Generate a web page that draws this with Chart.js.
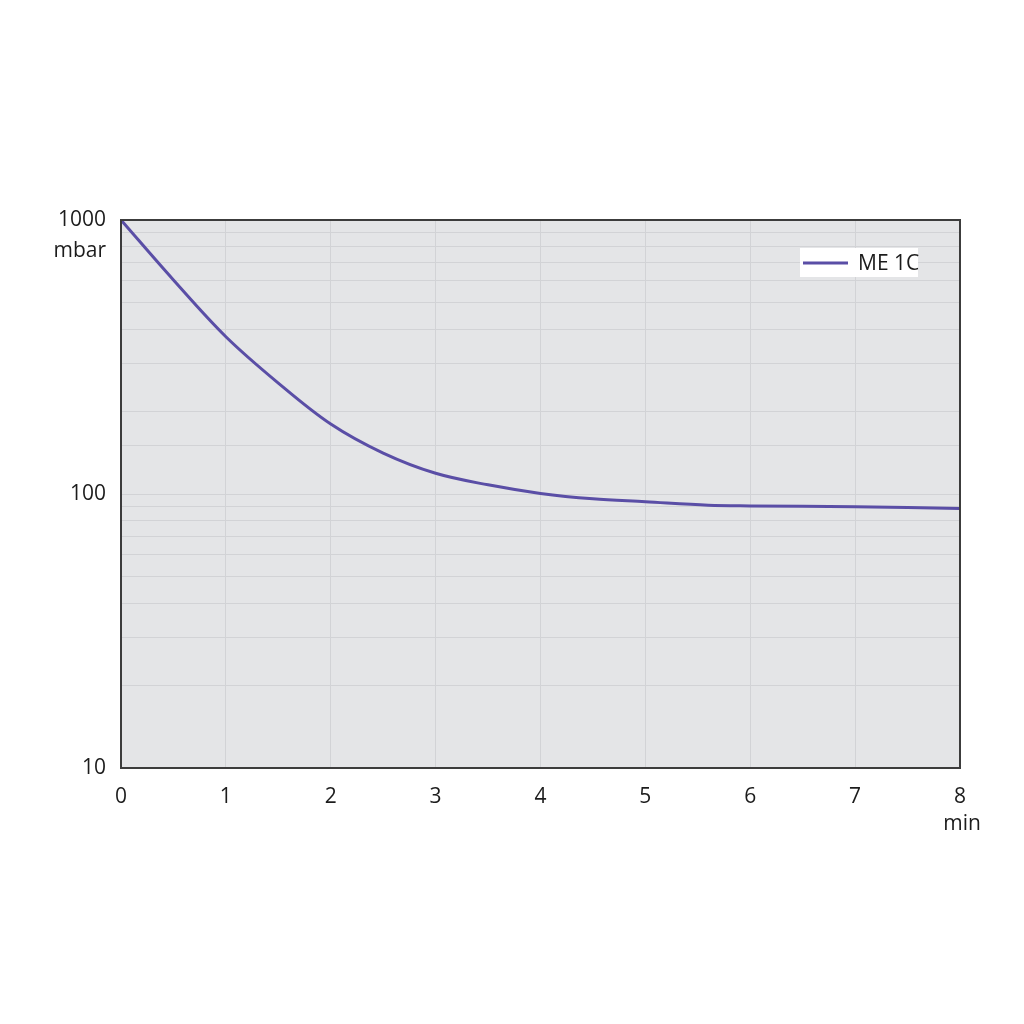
<!DOCTYPE html>
<html>
<head>
<meta charset="utf-8">
<script src="https://cdn.jsdelivr.net/npm/chart.js@4"></script>
<style>
    html, body { margin: 0; padding: 0; background: #ffffff; }
    #wrap { width: 1024px; height: 1024px; }
</style>
</head>
<body>
<div id="wrap"><canvas id="pumpDownChart" width="1024" height="1024"></canvas></div>
<script>
const seriesLabel = 'ME 1C';
const timeMinutes = [0, 0.5, 1, 1.5, 2, 2.5, 3, 3.5, 4, 4.5, 5, 5.6, 6, 7, 8];
const pressureMbar = [1000, 604, 375, 254, 180, 141, 119, 108, 100.5, 96, 93.7, 91, 90.5, 89.9, 88.5];
const xTicks = [0, 1, 2, 3, 4, 5, 6, 7, 8];
const yLabelTicks = [10, 100, 1000];
const yUnit = 'mbar';
const xUnit = 'min';

const FONT = '"Open Sans", "DejaVu Sans", sans-serif';

// grey plot background + dark frame round the chart area
const plotFrame = {
    id: 'plotFrame',
    beforeDraw(chart) {
        const { ctx, chartArea: a } = chart;
        ctx.save();
        ctx.fillStyle = '#e4e5e7';
        ctx.fillRect(a.left, a.top, a.right - a.left, a.bottom - a.top);
        ctx.restore();
    },
    afterDatasetsDraw(chart) {
        const { ctx, chartArea: a, scales } = chart;
        ctx.save();
        ctx.strokeStyle = '#3c3c3c';
        ctx.lineWidth = 2;
        ctx.strokeRect(a.left, a.top, a.right - a.left, a.bottom - a.top);

        // unit labels under the last ticks
        ctx.fillStyle = '#1c1c1c';
        ctx.font = '21px ' + FONT;
        ctx.textBaseline = 'middle';
        ctx.textAlign = 'right';
        ctx.fillText(yUnit, a.left - 15, scales.y.getPixelForValue(1000) + 31);
        ctx.textAlign = 'center';
        ctx.fillText(xUnit, scales.x.getPixelForValue(8) + 2, a.bottom + 56);

        // legend box inside the plot
        const ds = chart.data.datasets[0];
        const bx = a.right - 160, by = a.top + 28;
        ctx.fillStyle = '#ffffff';
        ctx.fillRect(bx, by, 118, 29);
        ctx.strokeStyle = ds.borderColor;
        ctx.lineWidth = 3;
        ctx.beginPath();
        ctx.moveTo(bx + 3, by + 15);
        ctx.lineTo(bx + 48, by + 15);
        ctx.stroke();
        ctx.fillStyle = '#1c1c1c';
        ctx.textAlign = 'left';
        ctx.fillText(ds.label, bx + 58, by + 16);
        ctx.restore();
    }
};

new Chart(document.getElementById('pumpDownChart'), {
    type: 'line',
    data: {
        datasets: [{
            label: seriesLabel,
            data: timeMinutes.map((t, i) => ({ x: t, y: pressureMbar[i] })),
            borderColor: '#5a4ea6',
            borderWidth: 3,
            pointRadius: 0,
            tension: 0.35,
            fill: false,
        }],
    },
    options: {
        responsive: false,
        animation: false,
        layout: { padding: { top: 220, right: 64, bottom: 0, left: 0 } },
        plugins: {
            legend: { display: false },
            tooltip: { enabled: false },
        },
        scales: {
            x: {
                type: 'linear',
                min: 0,
                max: 8,
                afterBuildTicks(scale) {
                    scale.ticks = xTicks.map(v => ({ value: v }));
                },
                afterFit(scale) { scale.height = 256; },
                grid: { color: '#d2d3d6', lineWidth: 1, drawTicks: false },
                border: { display: false },
                ticks: {
                    padding: 16,
                    color: '#1c1c1c',
                    font: { family: FONT, size: 21 },
                    maxRotation: 0,
                },
            },
            y: {
                type: 'logarithmic',
                min: 10,
                max: 1000,
                afterFit(scale) { scale.width = 121; },
                grid: { color: '#d2d3d6', lineWidth: 1, drawTicks: false },
                border: { display: false },
                ticks: {
                    padding: 15,
                    color: '#1c1c1c',
                    font: { family: FONT, size: 21 },
                    autoSkip: false,
                    callback(value) {
                        return yLabelTicks.includes(value) ? String(value) : '';
                    },
                },
            },
        },
    },
    plugins: [plotFrame],
});
</script>
</body>
</html>
